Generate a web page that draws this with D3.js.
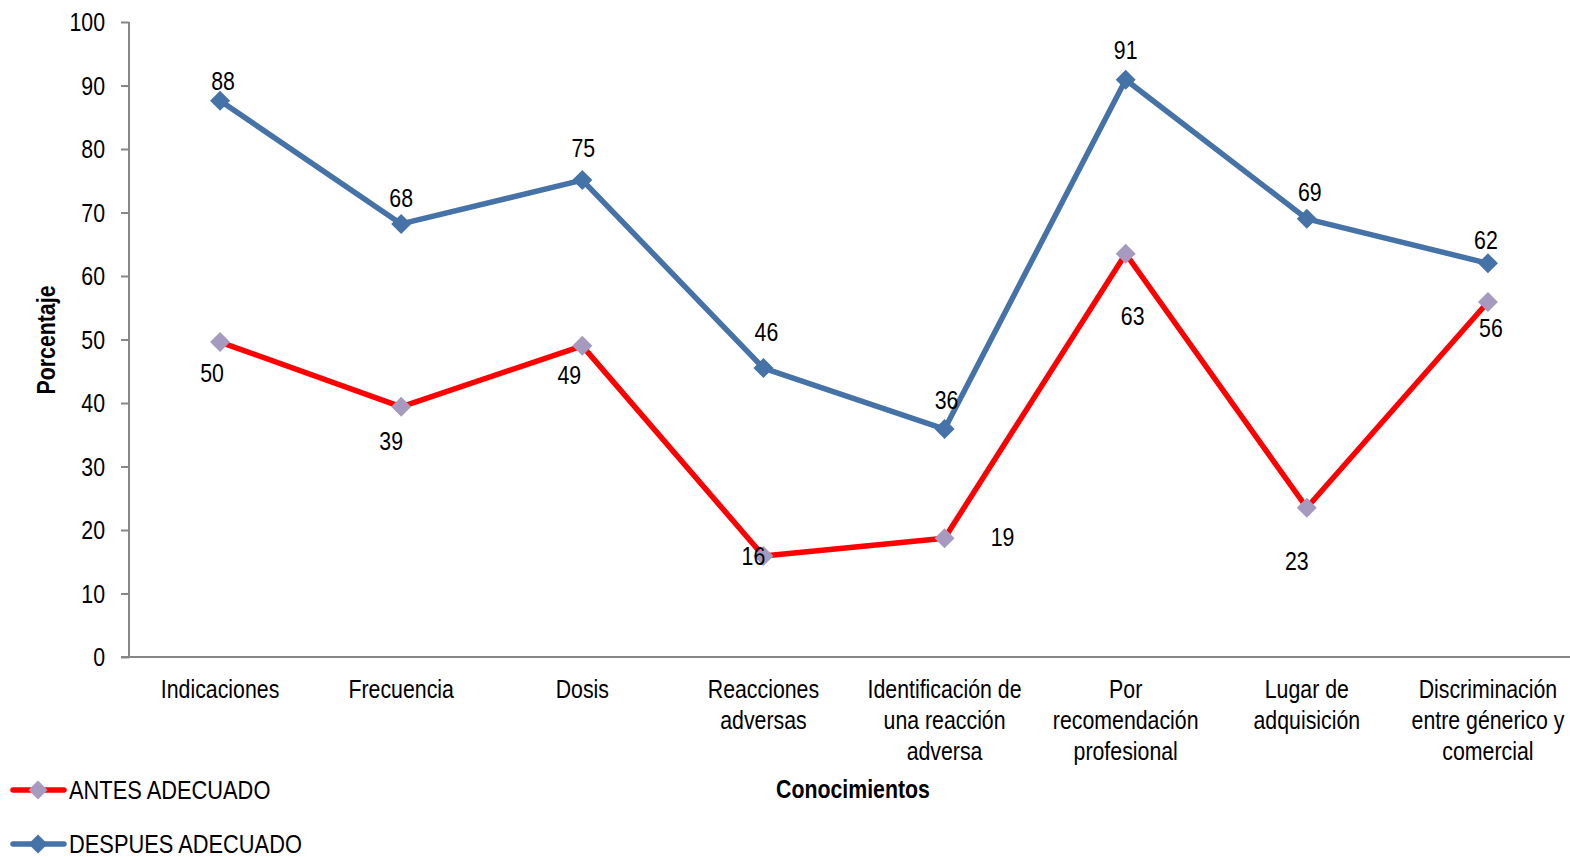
<!DOCTYPE html>
<html><head><meta charset="utf-8">
<script src="https://cdn.jsdelivr.net/npm/d3@7"></script>
<style>
body{margin:0;background:#fff;}
text{font-family:"Liberation Sans Narrow","Liberation Sans",Arial,sans-serif;fill:#000;}
</style></head>
<body>
<svg id="c" width="1570" height="857"></svg>
<script>
const categories = [
  ["Indicaciones"],
  ["Frecuencia"],
  ["Dosis"],
  ["Reacciones","adversas"],
  ["Identificación de","una reacción","adversa"],
  ["Por","recomendación","profesional"],
  ["Lugar de","adquisición"],
  ["Discriminación","entre génerico y","comercial"]
];
const antes = [49.6, 39.4, 49.0, 15.9, 18.7, 63.5, 23.5, 55.9];
const antesLabels = [50, 39, 49, 16, 19, 63, 23, 56];
const despues = [87.6, 68.2, 75.1, 45.5, 35.9, 90.9, 69.0, 62.0];
const despuesLabels = [88, 68, 75, 46, 36, 91, 69, 62];
const yTicks = [0,10,20,30,40,50,60,70,80,90,100];
const seriesNames = ["ANTES ADECUADO","DESPUES ADECUADO"];

// label offsets (layout only): [dx, dy] of label centre from point
const antesOff = [[-8,31],[-10,34],[-13,29],[-10,0],[58,-1],[7,62],[-10,53],[3,26]];
const despuesOff = [[3,-20],[0,-26],[1,-32],[3,-36],[2,-29],[0,-30],[3,-27],[-2,-23]];

const svg = d3.select("#c");
const x = d3.scaleBand().domain(d3.range(categories.length)).range([129.5,1578.5]);
const cx = i => x(i) + x.bandwidth()/2;
const y = d3.scaleLinear().domain([0,100]).range([657,22]);
const axisColor = "#878787";
const FS = 26, SX = 0.82;

function txt(parent, px, py, anchor, extra, sx){
  const g = parent.append("g").attr("transform",`translate(${px},${py})${extra||""} scale(${sx||SX},1)`);
  return g.append("text").attr("text-anchor",anchor).attr("font-size",FS);
}

// y axis
const yAxis = svg.append("g").attr("transform","translate(129,0)")
  .call(d3.axisLeft(y).tickValues(yTicks).tickSize(8).tickFormat(""));
yAxis.select(".domain").attr("stroke",axisColor).attr("stroke-width",2).attr("d","M0,22V657");
yAxis.selectAll(".tick line").attr("stroke",axisColor).attr("stroke-width",2);
yTicks.forEach(v=>txt(svg,105,y(v),"end").attr("dy","0.35em").text(v));

// x axis
svg.append("line").attr("x1",121).attr("x2",1570).attr("y1",657).attr("y2",657)
  .attr("stroke",axisColor).attr("stroke-width",2);
categories.forEach((lines,i)=>{
  const t = txt(svg, cx(i), 698, "middle");
  lines.forEach((l,j)=>t.append("tspan").attr("x",0).attr("dy", j===0?0:31).text(l));
});

// axis titles
txt(svg,853,798,"middle").attr("font-weight","bold").text("Conocimientos");
txt(svg,55,340,"middle"," rotate(-90)").attr("font-weight","bold").text("Porcentaje");

const line = d3.line().x((d,i)=>cx(i)).y(d=>y(d));
const marker = d3.symbol().type(d3.symbolSquare).size(200);

function drawSeries(vals, labels, offs, lineColor, markerColor){
  const g = svg.append("g");
  g.append("path").datum(vals).attr("d",line).attr("fill","none")
    .attr("stroke",lineColor).attr("stroke-width",5.5).attr("stroke-linejoin","round");
  g.selectAll("path.m").data(vals).join("path").attr("class","m")
    .attr("d", marker)
    .attr("transform",(d,i)=>`translate(${cx(i)},${y(d)}) rotate(45)`)
    .attr("fill",markerColor);
  vals.forEach((d,i)=>{
    txt(g, cx(i)+offs[i][0], y(d)+offs[i][1], "middle").attr("dy","0.35em").text(labels[i]);
  });
}
drawSeries(antes, antesLabels, antesOff, "#ff0000", "#a69bbf");
drawSeries(despues, despuesLabels, despuesOff, "#4572a7", "#4572a7");

// legend
const legColors = [["#ff0000","#a69bbf"],["#4572a7","#4572a7"]];
seriesNames.forEach((n,i)=>{
  const yy = 790 + i*54;
  svg.append("line").attr("x1",13).attr("x2",64).attr("y1",yy).attr("y2",yy)
    .attr("stroke",legColors[i][0]).attr("stroke-width",5.5).attr("stroke-linecap","round");
  svg.append("path").attr("d", d3.symbol().type(d3.symbolSquare).size(180))
    .attr("transform",`translate(38,${yy}) rotate(45)`).attr("fill",legColors[i][1]);
  txt(svg,69,yy,"start",null,0.84).attr("dy","0.35em").text(n);
});
</script>
</body></html>
